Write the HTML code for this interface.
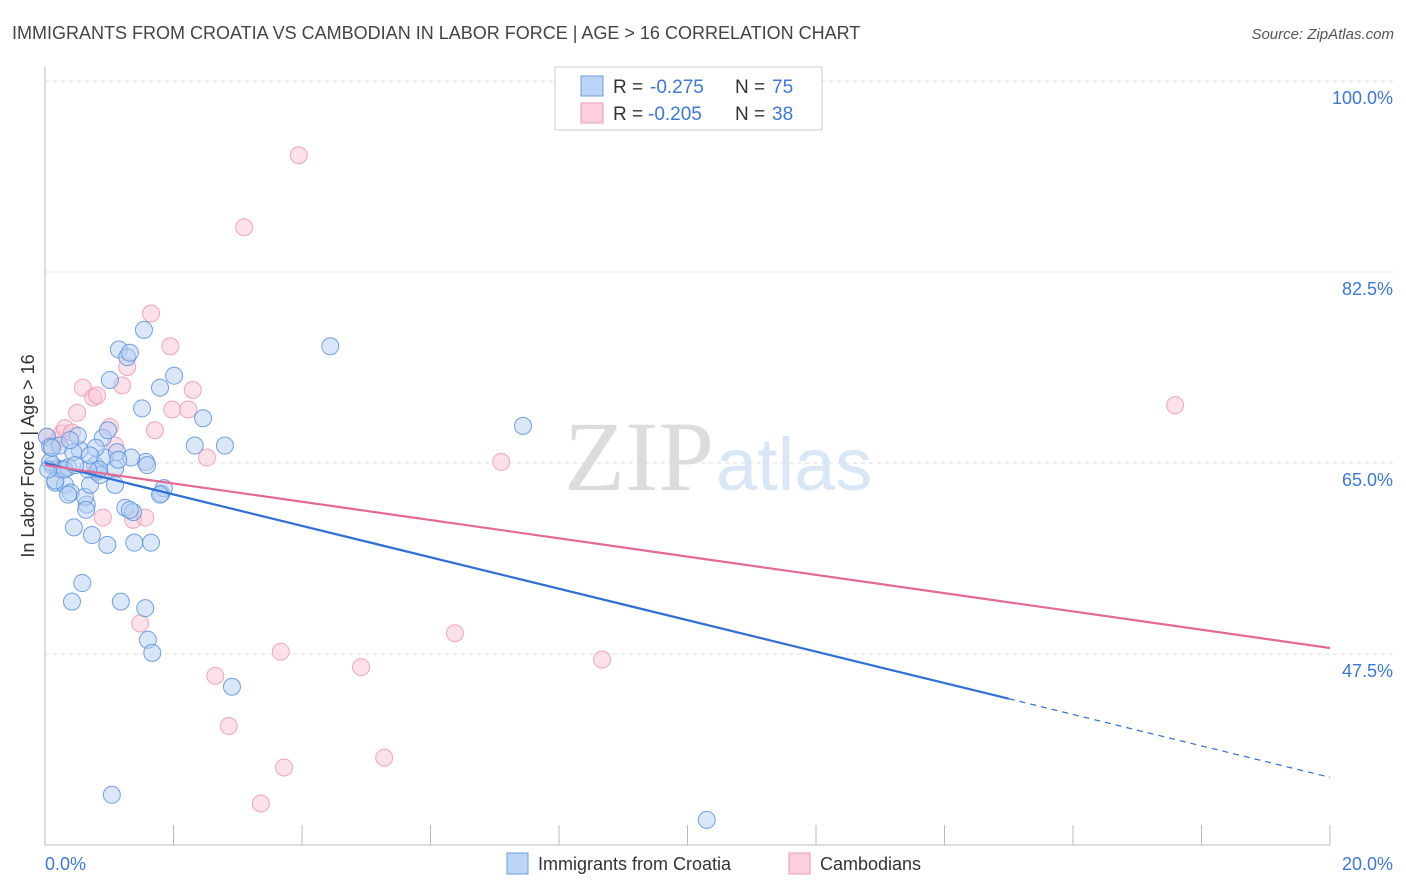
<!DOCTYPE html>
<html><head><meta charset="utf-8"><style>
body{margin:0;background:#fff;font-family:"Liberation Sans",sans-serif;}
svg{display:block}
</style></head><body>
<svg id="chart" width="1406" height="892" font-family="Liberation Sans, sans-serif">
<text x="12" y="39" font-size="18" fill="#444">IMMIGRANTS FROM CROATIA VS CAMBODIAN IN LABOR FORCE | AGE &gt; 16 CORRELATION CHART</text>
<text x="1394" y="39" font-size="15" fill="#555" font-style="italic" text-anchor="end">Source: ZipAtlas.com</text>
<text x="714" y="490" font-size="100" fill="#dcdcdc" text-anchor="end" font-family="Liberation Serif, serif">ZIP</text>
<text x="716" y="490" font-size="74" fill="#d9e6f6">atlas</text>
<g id="grid"></g><g id="pts"></g><g id="lines"></g>
<text transform="translate(34,456) rotate(-90)" font-size="18" fill="#333" text-anchor="middle">In Labor Force | Age &gt; 16</text>
<text x="45" y="870" font-size="18" fill="#3b78d8">0.0%</text>
<text x="1393" y="870" font-size="18" fill="#3b78d8" text-anchor="end">20.0%</text>
<g>
<rect x="555" y="67" width="267" height="63" fill="#fff" stroke="#ccc"/>
<rect x="581" y="76" width="22" height="20" fill="#bcd4f5" stroke="#6a9be0"/>
<rect x="581" y="103" width="22" height="20" fill="#fbd0dc" stroke="#eb9ab2"/>
<text x="613" y="93" font-size="19" fill="#333">R =</text><text x="650" y="93" font-size="19" fill="#3b78d8">-0.275</text>
<text x="735" y="93" font-size="19" fill="#333">N =</text><text x="772" y="93" font-size="19" fill="#3b78d8">75</text>
<text x="613" y="120" font-size="19" fill="#333">R =</text><text x="648" y="120" font-size="19" fill="#3b78d8">-0.205</text>
<text x="735" y="120" font-size="19" fill="#333">N =</text><text x="772" y="120" font-size="19" fill="#3b78d8">38</text>
</g>
<g>
<rect x="507" y="853" width="21" height="21" fill="#bcd4f5" stroke="#6a9be0"/>
<text x="538" y="870" font-size="18" fill="#333">Immigrants from Croatia</text>
<rect x="789" y="853" width="21" height="21" fill="#fbd0dc" stroke="#eb9ab2"/>
<text x="820" y="870" font-size="18" fill="#333">Cambodians</text>
</g>
</svg>
<script>
const yTicks=[100,82.5,65,47.5];
const xTicks=[0,2,4,6,8,10,12,14,16,18,20];
const blueX=[0.03,0.08,0.11,0.16,0.2,0.26,0.31,0.36,0.4,0.45,0.42,0.54,0.58,0.65,0.62,0.7,0.73,0.78,0.81,0.86,0.9,0.93,0.97,1.01,1.04,1.09,1.12,1.15,1.18,1.25,1.28,1.32,1.37,1.39,1.51,1.54,1.56,1.57,1.6,1.65,1.67,1.79,1.81,1.85,2.01,2.33,2.46,2.8,2.91,4.44,7.44,10.3,1.34,1.14,0.79,0.51,0.23,0.08,0.16,0.36,0.64,1.32,1.59,0.3,0.44,0.84,0.98,0.67,0.11,0.05,0.39,1.79,1.09,0.7,0.47];
const blueY=[67.4,66.5,64.8,63.2,64.5,64.4,63.0,64.6,62.3,59.1,52.3,66.2,54.0,61.2,61.9,63.0,58.4,64.8,64.2,63.9,67.3,65.5,57.5,72.6,34.6,64.5,66.0,75.4,52.3,60.9,74.7,75.1,60.5,57.7,70.0,77.2,51.7,65.1,48.8,57.7,47.6,71.9,62.2,62.7,73.0,66.6,69.1,66.6,44.5,75.7,68.4,32.3,65.5,65.3,66.4,67.5,66.6,65.1,63.4,62.1,60.7,60.7,64.8,64.4,66.0,64.4,68.0,64.4,66.4,64.4,67.1,62.1,63.0,65.7,64.8];
const pinkX=[0.03,0.11,0.2,0.26,0.31,0.42,0.5,0.59,0.75,0.81,0.9,1.01,1.09,1.2,1.28,1.37,1.48,1.56,1.65,1.71,1.95,1.98,2.23,2.3,2.52,2.65,2.86,3.1,3.36,3.67,3.72,3.95,4.92,5.28,6.38,7.1,8.67,17.59];
const pinkY=[67.4,66.6,67.1,67.7,68.2,67.8,69.6,71.9,71.0,71.2,60.0,68.3,66.6,72.1,73.8,59.8,50.3,60.0,78.7,68.0,75.7,69.9,69.9,71.7,65.5,45.5,40.9,86.6,33.8,47.7,37.1,93.2,46.3,38.0,49.4,65.1,47.0,70.3];
const blueTrend=[65.0,36.2], blueSolidEnd=15.0;
const pinkTrend=[64.8,48.05];
const NS='http://www.w3.org/2000/svg';
const X=v=>45+v*64.25, Y=v=>463-(v-65)*10.914;
function mk(p,t,a){const e=document.createElementNS(NS,t);for(const k in a)e.setAttribute(k,a[k]);p.appendChild(e);return e;}
const grid=document.getElementById('grid'),pts=document.getElementById('pts'),lines=document.getElementById('lines'),svg=document.getElementById('chart');
mk(grid,'line',{x1:45,y1:67,x2:45,y2:845,stroke:'#bbb'});
mk(grid,'line',{x1:45,y1:845,x2:1330,y2:845,stroke:'#bbb'});
yTicks.forEach(t=>{
 const l=mk(grid,'line',{x1:45,y1:Y(t),x2:1393,y2:Y(t),stroke:'#ddd','stroke-dasharray':'4,4'});
 
 
 const tx=mk(svg,'text',{x:1393,y:Y(t)+23,'font-size':18,fill:'#3b78d8','text-anchor':'end'});
 tx.textContent=t.toFixed(1)+'%';
 
 
});
xTicks.forEach(t=>{
 const l=mk(grid,'line',{x1:X(t),y1:825,x2:X(t),y2:845,stroke:'#bbb'});
 
 
});
function dots(xs,ys,fill,stroke,name){xs.forEach((x,i)=>{
 const c=mk(pts,'circle',{cx:X(x),cy:Y(ys[i]),r:8.5,fill:fill,'fill-opacity':0.5,stroke:stroke,'stroke-width':1,'stroke-opacity':0.85});
 
 
});}
dots(pinkX,pinkY,'#f9c3d3','#ec98b3','cambodian-point');
dots(blueX,blueY,'#b5cff3','#5a91de','croatia-point');
const bAt=x=>blueTrend[0]+(blueTrend[1]-blueTrend[0])*x/20;
let l1=mk(lines,'line',{x1:X(0),y1:Y(blueTrend[0]),x2:X(blueSolidEnd),y2:Y(bAt(blueSolidEnd)),stroke:'#2f6fd6','stroke-width':2.2});


let l2=mk(lines,'line',{x1:X(blueSolidEnd),y1:Y(bAt(blueSolidEnd)),x2:X(20),y2:Y(blueTrend[1]),stroke:'#2f6fd6','stroke-width':1.2,'stroke-dasharray':'6,5'});


let l3=mk(lines,'line',{x1:X(0),y1:Y(pinkTrend[0]),x2:X(20),y2:Y(pinkTrend[1]),stroke:'#e56a93','stroke-width':2.2});


</script>
</body></html>
